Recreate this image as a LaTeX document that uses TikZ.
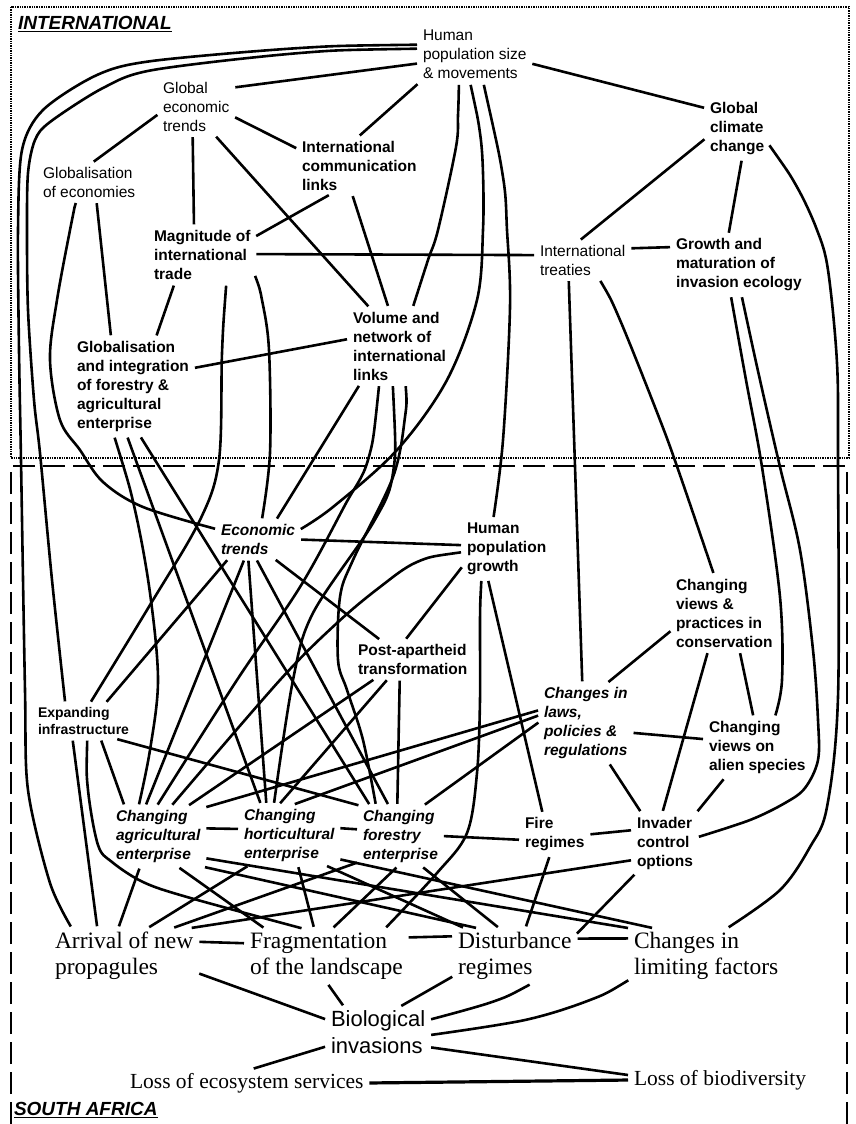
\documentclass[tikz,border=0pt]{standalone}
\usepackage{fontspec}
\setmainfont{Liberation Serif}
\setsansfont{Liberation Sans}
\newsavebox{\myulbox}
\newcommand{\myul}[1]{\sbox{\myulbox}{#1}\rlap{\rule[-3pt]{\wd\myulbox}{1.6pt}}\usebox{\myulbox}}
\begin{document}
\begin{tikzpicture}[x=1pt,y=-1pt]
\tikzset{
 lbl/.style={anchor=west, align=left, inner sep=4pt, outer sep=0pt},
 rs/.style={lbl, font=\sffamily\fontsize{15.5}{19}\selectfont},
 bs/.style={lbl, font=\sffamily\bfseries\fontsize{15.5}{19}\selectfont},
 bis/.style={lbl, font=\sffamily\bfseries\itshape\fontsize{15.5}{19}\selectfont},
 es/.style={lbl, font=\sffamily\bfseries\fontsize{14}{17}\selectfont},
 outs/.style={lbl, font=\rmfamily\fontsize{23.5}{26}\selectfont},
 loss/.style={lbl, font=\rmfamily\fontsize{21.5}{26}\selectfont},
 biol/.style={lbl, font=\sffamily\fontsize{22}{27}\selectfont},
 region/.style={lbl, font=\sffamily\bfseries\itshape\fontsize{19}{22}\selectfont},
 link/.style={line width=2.6pt, shorten >=2pt, shorten <=2pt},
 frameint/.style={line width=2.2pt, dash pattern=on 1.4pt off 1pt},
 framesa/.style={line width=2pt, dash pattern=on 22pt off 8pt}
}
\useasboundingbox (0,0) rectangle (856,1124);
% frames
\draw[frameint] (11,7) rectangle (849,458);
\draw[framesa] (11,1124) -- (11,466) -- (847,466) -- (847,1124);
% nodes
\node[region] (intl) at (14,24) {\myul{INTERNATIONAL}};
\node[region] (sa) at (10,1110) {\myul{SOUTH AFRICA}};
\node[rs] (hp) at (419,54.5) {Human\\population size\\\& movements};
\node[rs] (get) at (159,106.5) {Global\\economic\\trends};
\node[bs] (gcc) at (706,128.5) {Global\\climate\\change};
\node[bs] (icl) at (298,165.5) {International\\communication\\links};
\node[rs] (goe) at (39,182) {Globalisation\\of economies};
\node[bs] (mit) at (150,255) {Magnitude of\\international\\trade};
\node[rs] (it) at (536,260) {International\\treaties};
\node[bs] (gmie) at (672,265) {Growth and\\maturation of\\invasion ecology};
\node[bs] (vnil) at (349,346) {Volume and\\network of\\international\\links};
\node[bs] (gifa) at (73,386.5) {Globalisation\\and integration\\of forestry \&\\agricultural\\enterprise};
\node[bis] (et) at (217,539.5) {Economic\\trends};
\node[bs] (hpg) at (463,549) {Human\\population\\growth};
\node[bs] (cvpc) at (672,613) {Changing\\views \&\\practices in\\conservation};
\node[bs] (pat) at (354,659.5) {Post-apartheid\\transformation};
\node[bis] (clpr) at (540,723) {Changes in\\laws,\\policies \&\\regulations};
\node[bs] (cvas) at (705,747.5) {Changing\\views on\\alien species};
\node[es] (ei) at (34,721) {Expanding\\infrastructure};
\node[bis] (cae) at (112,836.5) {Changing\\agricultural\\enterprise};
\node[bis] (che) at (240,835) {Changing\\horticultural\\enterprise};
\node[bis] (cfe) at (359,836) {Changing\\forestry\\enterprise};
\node[bs] (fire) at (521,834.5) {Fire\\regimes};
\node[bs] (ico) at (633,843) {Invader\\control\\options};
\node[outs] (arr) at (51,956) {Arrival of new\\propagules};
\node[outs] (frag) at (246,956) {Fragmentation\\of the landscape};
\node[outs] (dist) at (454,956) {Disturbance\\regimes};
\node[outs] (lim) at (630,956) {Changes in\\limiting factors};
\node[biol] (bio) at (327,1032.5) {Biological\\invasions};
\node[loss] (les) at (126,1083) {Loss of ecosystem services};
\node[loss] (lb) at (630,1080) {Loss of biodiversity};
% international links
\draw[link] (hp.189) -- (get.27);
\draw[link] (hp.207) -- (icl.92);
\draw[link] (hp.-9) -- (gcc.147);
\draw[link] plot[smooth,tension=.5] coordinates {(hp.170) (300,48) (152,61) (97,75) (43,110) (22,150) (18,230) (19,350) (21,460) (25,690) (28,790) (50,883) (arr.152)};
\draw[link] plot[smooth,tension=.5] coordinates {(hp.174) (300,53) (153,70) (103,88) (50,122) (35,140) (28,173) (27,230) (28,310) (34,400) (40,453) (52,580) (ei.136)};
\draw[link] (get.191) -- (goe.81);
\draw[link] (get.-15) -- (icl.165);
\draw[link] (get.263) -- (mit.106);
\draw[link] (get.-57) -- (vnil.128);
\draw[link] (icl.225) -- (mit.19);
\draw[link] (icl.256) -- (vnil.106);
\draw[link] plot[smooth,tension=.55] coordinates {(goe.237) (72,220) (57,300) (50,360) (60,420) (80,450) (103,482) (143,507) (et.166)};
\draw[link] (goe.-69) -- (gifa.114);
\draw[link] (mit.226) -- (gifa.65);
\draw[link] (mit.1) -- (it.174);
\draw[link] plot[smooth,tension=.55] coordinates {(mit.-50) (222,353) (219,460) (200,520) (150,605) (ei.70)};
\draw[link] plot[smooth,tension=.55] coordinates {(mit.-20) (262,300) (269,350) (270,453) (et.79)};
\draw[link] (gcc.197) -- (it.100);
\draw[link] (gcc.-81) -- (gmie.109);
\draw[link] plot[smooth,tension=.55] coordinates {(gcc.-26) (797,187) (817,230) (828,270) (837,363) (838,460) (838,697) (827,807) (810,847) (780,890) (lim.53)};
\draw[link] (it.14) -- (gmie.165);
\draw[link] (it.234) -- (clpr.95);
\draw[link] plot[smooth,tension=.55] coordinates {(it.-49) (620,320) (660,420) (680,475) (cvpc.105)};
\draw[link] plot[smooth,tension=.55] coordinates {(gmie.255) (746,380) (762,467) (780,597) (782,680) (cvas.60)};
\draw[link] plot[smooth,tension=.55] coordinates {(gmie.-85) (760,380) (780,467) (800,550) (813,650) (818,720) (818,760) (805,788) (785,803) (750,820) (ico.10)};
\draw[link] plot[smooth,tension=.55] coordinates {(hp.241) (458,115) (456,147) (438,230) (428,260) (vnil.71)};
\draw[link] plot[smooth,tension=.55] coordinates {(hp.261) (480,133) (483,173) (483,230) (477,300) (447,380) (397,450) (333,507) (et.13)};
\draw[link] plot[smooth,tension=.55] coordinates {(hp.-73) (503,177) (507,230) (510,307) (503,440) (hpg.114)};
\draw[link] (vnil.172) -- (gifa.17);
\draw[link] (vnil.224) -- (et.47);
\draw[link] plot[smooth,tension=.55] coordinates {(vnil.242) (368,460) (345,505) (300,587) (237,680) (cae.93)};
\draw[link] plot[smooth,tension=.55] coordinates {(vnil.260) (393,473) (373,523) (313,613) (293,680) (che.117)};
\draw[link] plot[smooth,tension=.55] coordinates {(vnil.-81) (405,417) (393,477) (353,560) (340,597) (338,660) (347,690) (363,740) (cfe.129)};
% South Africa links
\draw[link] (et.0) -- (hpg.175);
\draw[link] plot[smooth,tension=.55] coordinates {(hpg.184) (417,562) (380,587) (337,623) (280,680) (cae.67)};
\draw[link] (hpg.201) -- (pat.112);
\draw[link] plot[smooth,tension=.55] coordinates {(hpg.230) (480,620) (480,700) (477,773) (467,833) (437,873) (frag.25)};
\draw[link] (hpg.238) -- (fire.120);
\draw[link] (et.-50) -- (pat.149);
\draw[link] (et.213) -- (ei.39);
\draw[link] (et.235) -- (cae.113);
\draw[link] (et.243) -- (che.127);
\draw[link] (et.264) -- (cfe.111);
\draw[link] plot[smooth,tension=.55] coordinates {(gifa.249) (135,510) (150,593) (158,680) (150,750) (cae.123)};
\draw[link] (gifa.263) -- (che.133);
\draw[link] (gifa.-82) -- (cfe.135);
\draw[link] (pat.207) -- (cae.46);
\draw[link] (pat.218) -- (che.109);
\draw[link] (pat.236) -- (cfe.96);
\draw[link] (clpr.164) -- (cae.32);
\draw[link] (clpr.170) -- (che.83);
\draw[link] (clpr.178) -- (cfe.53);
\draw[link] (cvpc.198) -- (clpr.62);
\draw[link] (cvpc.-68) -- (cvas.97);
\draw[link] (cvpc.247) -- (ico.95);
\draw[link] (clpr.-12) -- (cvas.171);
\draw[link] (clpr.-60) -- (ico.128);
\draw[link] (cvas.223) -- (ico.44);
\draw[link] (ei.-46) -- (cae.138);
\draw[link] (ei.-29) -- (cfe.143);
\draw[link] (ei.238) -- (arr.134);
\draw[link] plot[smooth,tension=.55] coordinates {(ei.-78) (88,790) (98,845) (112,862) (143,882) (187,897) (frag.130)};
\draw[link] (cae.10) -- (che.173);
\draw[link] (che.8) -- (cfe.171);
\draw[link] (cfe.0) -- (fire.189);
\draw[link] (fire.0) -- (ico.158);
\draw[link] (fire.257) -- (dist.69);
\draw[link] (ico.208) -- (arr.23);
\draw[link] (ico.226) -- (dist.19);
\draw[link] (cae.239) -- (arr.102);
\draw[link] (cae.-57) -- (frag.156);
\draw[link] (cae.-34) -- (dist.143);
\draw[link] (cae.-25) -- (lim.160);
\draw[link] (che.217) -- (arr.50);
\draw[link] (che.-74) -- (frag.114);
\draw[link] (che.-40) -- (dist.151);
\draw[link] (che.-26) -- (lim.152);
\draw[link] (cfe.212) -- (arr.30);
\draw[link] (cfe.265) -- (frag.78);
\draw[link] (cfe.-55) -- (dist.119);
% outcomes
\draw[link] (arr.11) -- (frag.171);
\draw[link] (frag.13) -- (dist.162);
\draw[link] (dist.16) -- (lim.167);
\draw[link] (arr.-13) -- (bio.166);
\draw[link] (frag.-88) -- (bio.143);
\draw[link] (dist.198) -- (bio.50);
\draw[link] plot[smooth,tension=.55] coordinates {(dist.-59) (492,1002) (bio.14)};
\draw[link] plot[smooth,tension=.55] coordinates {(lim.197) (590,1000) (525,1020) (bio.-3)};
\draw[link] (bio.195) -- (les.70);
\draw[link] (bio.-16) -- (lb.177);
\draw[link, line width=3.2pt] (les.east) -- (lb.west);
\end{tikzpicture}
\end{document}
